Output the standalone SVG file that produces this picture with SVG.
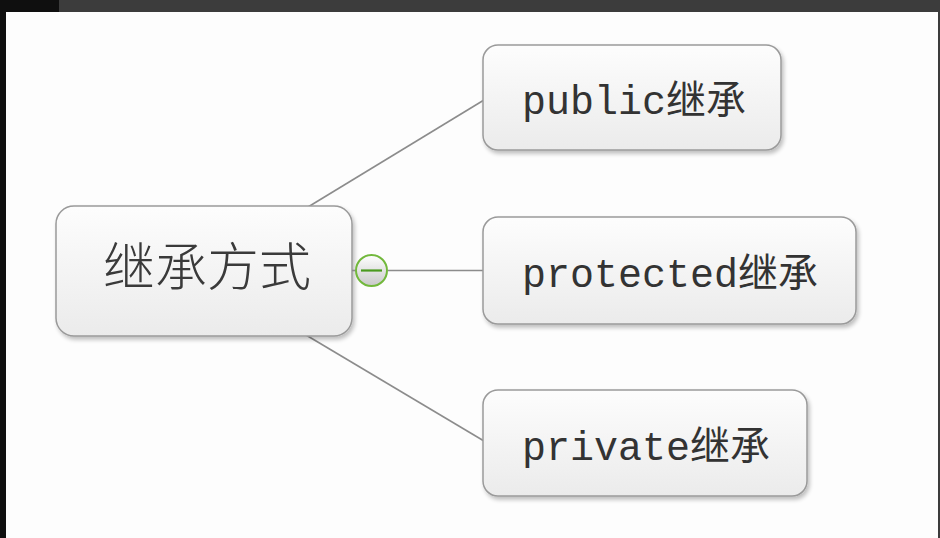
<svg xmlns="http://www.w3.org/2000/svg" width="940" height="538" viewBox="0 0 940 538">
  <defs>
    <linearGradient id="nodeFill" x1="0" y1="0" x2="0" y2="1">
      <stop offset="0" stop-color="#fdfdfd"/>
      <stop offset="1" stop-color="#ebebeb"/>
    </linearGradient>
    <linearGradient id="knobFill" x1="0" y1="0" x2="0" y2="1">
      <stop offset="0" stop-color="#ffffff"/>
      <stop offset="1" stop-color="#c8c8c8"/>
    </linearGradient>
    <filter id="shadow" x="-10%" y="-10%" width="120%" height="130%">
      <feGaussianBlur in="SourceAlpha" stdDeviation="2"/>
      <feOffset dx="2" dy="3" result="b"/>
      <feComponentTransfer><feFuncA type="linear" slope="0.25"/></feComponentTransfer>
      <feMerge><feMergeNode/><feMergeNode in="SourceGraphic"/></feMerge>
    </filter>
  </defs>
  <style>
    .node rect { fill: url(#nodeFill); stroke: #9a9a9a; stroke-width: 1.5; filter: url(#shadow); }
    .child text { font-family: "Liberation Mono", "Noto Sans CJK SC", monospace; font-size: 40px; fill: #333333; }
    .root text { font-family: "Noto Sans CJK SC", sans-serif; font-size: 52px; font-weight: 300; fill: #3a3a3a; }
    .conn line { stroke: #8c8c8c; stroke-width: 1.6; }
  </style>

  <!-- frame -->
  <rect x="0" y="0" width="940" height="538" fill="#fdfdfd"/>
  <rect x="0" y="0" width="940" height="12" fill="#3c3c3c"/>
  <rect x="0" y="0" width="59" height="12" fill="#0f0f0f"/>
  <rect x="0" y="0" width="6" height="538" fill="#0f0f0f"/>
  <rect x="938" y="0" width="2" height="538" fill="#3c3c3c"/>

  <g id="connectors" class="conn">
    <line x1="308" y1="207" x2="484" y2="100"/>
    <line x1="388" y1="270.5" x2="484" y2="270.5"/>
    <line x1="306" y1="335" x2="484" y2="441"/>
  </g>

  <g id="root" class="node root">
    <rect x="56" y="206" width="296" height="130" rx="18" ry="18"/>
    <text x="103" y="286">继承方式</text>
  </g>

  <g id="collapse-knob">
    <line x1="352" y1="270.5" x2="356" y2="270.5" stroke="#8c8c8c" stroke-width="1.6"/>
    <circle cx="371.5" cy="270.5" r="15.5" fill="url(#knobFill)" stroke="#72b83c" stroke-width="2"/>
    <line x1="361" y1="270.5" x2="382" y2="270.5" stroke="#4a9a1e" stroke-width="2.2"/>
  </g>

  <g id="public" class="node child">
    <rect x="483" y="45" width="298" height="105" rx="15" ry="15"/>
    <text x="522" y="114">public继承</text>
  </g>

  <g id="protected" class="node child">
    <rect x="483" y="217" width="373" height="107" rx="15" ry="15"/>
    <text x="522" y="287">protected继承</text>
  </g>

  <g id="private" class="node child">
    <rect x="483" y="390" width="324" height="106" rx="15" ry="15"/>
    <text x="522" y="460">private继承</text>
  </g>
</svg>
